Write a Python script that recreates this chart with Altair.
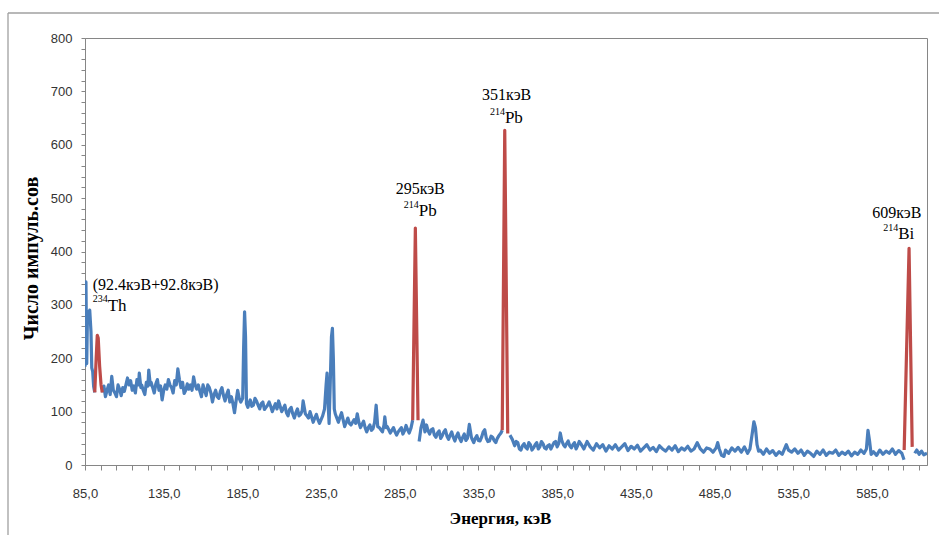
import altair as alt
import pandas as pd

# ---------------- data ----------------
# blue spectrum, first segment (before 234Th peak)
blue_a_E = [85.0, 85.6, 86.1, 86.6, 87.3, 88.0, 88.8, 89.3, 89.9, 90.5, 91.2]
blue_a_V = [184, 343, 190, 288, 272, 290, 250, 182, 175, 147, 136]

# blue spectrum 96 .. 293 keV
blue_b_E = [96, 97, 98, 99, 100, 101, 102, 103, 104, 105, 106, 107, 108, 109, 110, 111,
            112, 113, 114, 115, 116, 117, 118, 119, 119.5, 120.5, 121, 122, 123, 124, 125,
            125.5, 126.5, 127, 128, 129, 130, 131, 132, 133, 134, 135, 136, 137, 138, 139,
            140, 141, 142, 143, 144, 145, 146, 147, 148, 149, 150, 151, 152, 153, 154, 155,
            156, 157, 158, 159, 160, 161, 162, 163, 164, 165, 166, 167, 168, 169, 170, 171,
            172, 173, 174, 175, 176, 177, 178, 179, 180, 181, 182, 183, 184,
            185.2, 185.8, 186.4, 187.0, 187.6,
            188.5, 189.5, 190, 191, 192, 193, 194, 195, 196, 197, 198, 199, 200, 201, 202,
            203, 204, 205, 206, 207, 208, 209, 210, 211, 212, 213, 214, 215, 216, 217, 218,
            219, 220, 221, 222, 223, 223.6, 224.5, 225, 226, 227, 228, 229, 230, 231, 232,
            233, 234, 235, 236, 237.2,
            238.2, 238.8, 239.4, 240.1, 240.8, 241.6, 242.2, 242.8, 243.4,
            244, 245, 246, 247, 248, 249, 250, 251, 252, 253, 254, 255, 256, 257, 258, 259,
            260, 261, 262, 263, 264, 265, 266, 267, 268, 269, 270, 271, 272, 273, 274, 275,
            275.5, 276.3, 277, 278, 279, 280, 281, 282, 283, 284, 285, 286, 287, 288, 289,
            290, 291, 292.2, 293.2]
blue_b_V = [136, 148, 128, 140, 150, 132, 166, 140, 135, 128, 150, 142, 130, 145, 138, 150,
            163, 150, 158, 140, 148, 135, 160, 150, 172, 145, 150, 140, 132, 155, 148,
            178, 150, 155, 145, 135, 152, 160, 140, 148, 122, 140, 150, 142, 160, 150,
            145, 135, 158, 150, 180, 160, 145, 155, 134, 140, 152, 142, 150, 140, 165, 150,
            142, 150, 138, 128, 150, 140, 130, 150, 145, 135, 118, 132, 140, 128, 125, 138,
            145, 130, 120, 132, 140, 118, 128, 115, 98, 120, 140, 125, 118,
            125, 220, 287, 240, 115,
            108, 118, 122, 110, 112, 125, 120, 112, 105, 115, 118, 104, 108, 112, 118,
            110, 100, 108, 115, 105, 120, 110, 100, 106, 112, 98, 92, 104, 108, 96, 88,
            98, 105, 92, 95, 102, 120, 105, 96, 92, 88, 100, 90, 80, 88, 95,
            85, 78, 85, 92, 105,
            150, 172, 120, 78, 150, 240, 256, 200, 105,
            96, 88, 80, 90, 98, 85, 72, 80, 88, 78, 75, 80, 85, 78, 96, 80,
            70, 76, 82, 70, 62, 70, 75, 65, 68, 80, 112, 72, 70, 66, 62, 75,
            90, 70, 72, 66, 60, 65, 70, 62, 56, 62, 66, 70, 58, 64, 74,
            66, 60, 70, 84]

# blue spectrum 297 .. 350 keV
blue_c_E = [297.3, 298.5, 299.8, 301, 302, 303, 304, 305, 306, 307, 308, 309, 310, 311,
            312, 313, 314, 315, 316, 317, 318, 319, 320, 321, 322, 323, 324, 325, 326, 327,
            328, 329.2, 330.5, 331, 332, 333, 334, 335, 336, 337, 338, 339, 340, 341, 342,
            343, 344, 345, 346, 347, 348, 349.3, 350.1]
blue_c_V = [44, 70, 84, 62, 75, 64, 58, 66, 68, 56, 52, 60, 64, 50,
            55, 62, 66, 54, 48, 56, 62, 52, 45, 54, 60, 50, 44, 52, 58, 46,
            50, 76, 52, 48, 42, 50, 55, 46, 45, 52, 62, 66, 50, 44, 45,
            54, 52, 46, 42, 50, 55, 60, 65]

# blue spectrum 355 .. 605 keV
blue_d_E = [355, 356.5, 358, 359, 360, 361, 362, 363, 364, 365, 366, 367, 368, 369, 370,
            371, 372, 373, 374, 375, 376, 377, 378, 379, 380, 381, 382, 383, 384, 385, 386,
            387, 388, 389, 390, 391, 392, 393, 394, 395, 396, 397, 398, 399, 400, 402, 404,
            406, 408, 410, 412, 414, 416, 418, 420, 422, 424, 426, 428, 430, 432, 434, 436,
            438, 440, 442, 444, 446, 448, 450, 452, 454, 456, 458, 460, 462, 464, 466, 468,
            470, 472, 474, 476, 478, 480, 482, 484, 486, 487, 488, 489.5, 491, 492, 494,
            496, 498, 500, 502, 504, 506, 507.5, 509, 510, 511, 512, 513, 514, 516, 518,
            520, 522, 524, 526, 528, 530.6, 532, 534, 536, 538, 540, 542, 544, 546, 548,
            550, 552, 554, 556, 558, 560, 562, 564, 566, 568, 570, 572, 574, 576, 578, 580,
            581.5, 582.5, 583.5, 584.5, 586, 588, 590, 592, 594, 596, 598, 600, 602, 604,
            605.4]
blue_d_V = [56, 48, 36, 44, 42, 30, 28, 36, 40, 33, 30, 42, 38, 28, 32,
            38, 42, 30, 34, 44, 40, 32, 30, 36, 38, 30, 36, 42, 44, 34, 40,
            60, 45, 38, 34, 40, 45, 36, 32, 38, 42, 30, 36, 44, 40, 30, 44,
            34, 28, 40, 32, 38, 26, 36, 30, 38, 28, 34, 40, 27, 35, 30, 37,
            26, 32, 38, 28, 33, 25, 36, 30, 26, 34, 28, 36, 25, 32, 28, 35,
            26, 30, 42, 30, 24, 32, 30, 24, 32, 42, 30, 18, 16, 28, 22,
            32, 26, 33, 24, 34, 22, 30, 60, 81, 70, 38, 26, 28, 20, 30,
            22, 27, 18, 25, 20, 38, 28, 24, 30, 22, 28, 18, 26, 22, 16,
            26, 20, 28, 18, 24, 22, 28, 18, 24, 20, 26, 17, 24, 20, 28, 22,
            30, 65, 45, 20, 25, 18, 28, 20, 26, 22, 30, 20, 27, 22,
            10]

# blue spectrum after 609 keV
blue_e_E = [612.2, 613.5, 615, 616.5, 618, 620]
blue_e_V = [22, 28, 20, 26, 19, 22]

# red (identified) peaks
red_th_E = [91.2, 92.1, 92.8, 93.4, 94.3, 95.2, 96.0]
red_th_V = [136, 200, 243, 238, 185, 150, 136]
red_295_E = [293.2, 294.9, 296.6]
red_295_V = [84, 444, 84]
red_351_E = [350.1, 351.7, 353.6]
red_351_V = [65, 627, 59]
red_609_E = [605.5, 608.6, 610.6]
red_609_V = [28, 406, 34]

# annotation texts
energy_texts = ["295кэВ", "351кэВ", "609кэВ"]
energy_E = [298.0, 352.9, 600.8]
energy_V = [518, 693, 473]
mass_texts = ["214", "214", "214", "234"]
mass_E = [297.1, 351.8, 601.7, 99.4]
mass_V = [487, 661, 444, 311]
elem_texts = ["Pb", "Pb", "Bi", "Th"]
elem_E = [297.1, 351.8, 601.7, 99.4]
elem_V = [476, 651, 433, 298]
th_text = ["(92.4кэВ+92.8кэВ)"]
th_E = [89.9]
th_V = [337]

x_ticks = list(range(85, 616, 10))
y_ticks = list(range(0, 801, 20))

# ---------------- build tables ----------------
def seg(E, V, name):
    return pd.DataFrame({"E": E, "V": V, "seg": name})

blue_df = pd.concat([seg(blue_a_E, blue_a_V, "a"), seg(blue_b_E, blue_b_V, "b"),
                     seg(blue_c_E, blue_c_V, "c"), seg(blue_d_E, blue_d_V, "d"),
                     seg(blue_e_E, blue_e_V, "e")], ignore_index=True)
red_df = pd.concat([seg(red_th_E, red_th_V, "th"), seg(red_295_E, red_295_V, "p295"),
                    seg(red_351_E, red_351_V, "p351"), seg(red_609_E, red_609_V, "p609")],
                   ignore_index=True)
blue_df["i"] = range(len(blue_df))
red_df["i"] = range(len(red_df))

energy_df = pd.DataFrame({"E": energy_E, "V": energy_V, "t": energy_texts})
mass_df = pd.DataFrame({"E": mass_E, "V": mass_V, "t": mass_texts})
elem_df = pd.DataFrame({"E": elem_E, "V": elem_V, "t": elem_texts})
th_df = pd.DataFrame({"E": th_E, "V": th_V, "t": th_text})

AXIS_GRAY = "#868686"
SERIF = "Liberation Serif"

x_scale = alt.Scale(domain=[85, 620], nice=False, zero=False)
y_scale = alt.Scale(domain=[0, 800], nice=False, zero=True)

x_axis = alt.Axis(
    values=x_ticks,
    labelExpr="(datum.value - 85) % 50 == 0 ? replace(format(datum.value, '.1f'), '.', ',') : ''",
    labelOverlap=False, labelFlush=False,
    title="Энергия, кэВ", titleFont=SERIF, titleFontWeight="bold", titleFontSize=17,
    titleColor="#000000", titleX=415, titleY=53, titleAlign="center", titleBaseline="middle",
    tickSize=5, labelPadding=17, grid=False,
)
y_axis = alt.Axis(
    values=y_ticks,
    labelExpr="datum.value % 100 == 0 ? datum.label : ''",
    labelOverlap=False,
    title="Число импуль.сов", titleFont=SERIF, titleFontWeight="bold", titleFontSize=20,
    titleColor="#000000", titleX=-54, titleY=220, titleAlign="center", titleBaseline="middle",
    titleAngle=270,
    tickSize=4, labelPadding=9, grid=False,
)

X = alt.X("E:Q", scale=x_scale, axis=x_axis)
Y = alt.Y("V:Q", scale=y_scale, axis=y_axis)

blue = alt.Chart(blue_df).mark_line(color="#4A7EBB", strokeWidth=3.2, strokeJoin="round",
                                    clip=True).encode(
    x=X, y=Y, detail="seg:N", order="i:Q")
red = alt.Chart(red_df).mark_line(color="#BE4B48", strokeWidth=3.2, strokeJoin="round",
                                  clip=True).encode(
    x=X, y=Y, detail="seg:N", order="i:Q")

energy_txt = alt.Chart(energy_df).mark_text(font=SERIF, fontSize=16, align="center",
                                            baseline="middle", color="#000000").encode(
    x=X, y=Y, text="t:N")
mass_txt = alt.Chart(mass_df).mark_text(font=SERIF, fontSize=10, align="right",
                                        baseline="middle", color="#000000").encode(
    x=X, y=Y, text="t:N")
elem_txt = alt.Chart(elem_df).mark_text(font=SERIF, fontSize=17, align="left",
                                        baseline="middle", color="#000000").encode(
    x=X, y=Y, text="t:N")
th_txt = alt.Chart(th_df).mark_text(font=SERIF, fontSize=16, align="left",
                                    baseline="middle", color="#000000").encode(
    x=X, y=Y, text="t:N")

frame_df = pd.DataFrame({"k": [0]})
frame_top = alt.Chart(frame_df).mark_rule(color="#A0A0A0", strokeWidth=1.3).encode(
    x=alt.value(-77), x2=alt.value(900), y=alt.value(-25))
frame_left = alt.Chart(frame_df).mark_rule(color="#A0A0A0", strokeWidth=1.3).encode(
    x=alt.value(-77), y=alt.value(-25), y2=alt.value(600))

chart = alt.layer(frame_top, frame_left, blue, red, energy_txt, mass_txt, elem_txt,
                  th_txt).properties(
    width=842, height=427,
    autosize=alt.AutoSizeParams(type="none"),
    padding={"left": 85, "top": 38, "right": 12, "bottom": 70},
    background="#FFFFFF",
).configure_view(
    stroke=AXIS_GRAY, strokeWidth=1
).configure_axis(
    domainColor=AXIS_GRAY, tickColor=AXIS_GRAY, labelFont="Liberation Sans",
    labelFontSize=13, labelColor="#333333", domainWidth=1, tickWidth=1
)

chart.save("out.html", embed_options={"renderer": "svg", "actions": False})
